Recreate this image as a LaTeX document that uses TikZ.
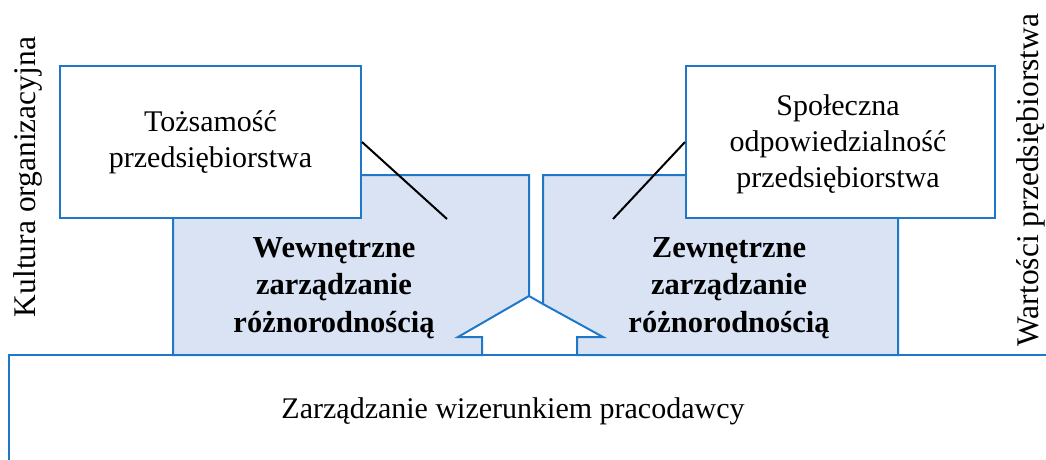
\documentclass[tikz,border=0pt]{standalone}
\usepackage{fontspec}
\setmainfont{Liberation Serif}
\definecolor{frameblue}{RGB}{31,119,200}
\definecolor{paleblue}{RGB}{218,227,243}
\begin{document}
\begin{tikzpicture}[x=1pt,y=-1pt,
  frame/.style={draw=frameblue, line width=2pt, line join=miter},
  panel/.style={frame, fill=paleblue},
  card/.style={frame, fill=white, inner sep=0pt},
  body/.style={font=\fontsize{30}{36}\selectfont, align=center, inner sep=0pt},
  heading/.style={font=\fontsize{30.5}{37.5}\selectfont\bfseries, align=center, inner sep=0pt},
  side/.style={font=\fontsize{31.5}{36}\selectfont, rotate=90, inner sep=0pt},
  link/.style={draw=black, line width=2pt}]
\useasboundingbox (0,0) rectangle (1046,459);

% wide base frame, open to the right and bottom
\draw[frame] (9,470) -- (9,355) -- (1060,355);

% two shaded panels with the up-pointing gap between them
\draw[panel] (173,175) -- (529,175) -- (529,296) -- (458,337) -- (482,337)
  -- (482,355) -- (173,355) -- cycle;
\draw[panel] (543,175) -- (898,175) -- (898,355) -- (577,355) -- (577,337)
  -- (603,337) -- (543,304) -- cycle;
\draw[frame] (529,296) -- (543,304);

% white cards on top of the panels
\node[card, body, minimum width=301pt, minimum height=152pt] (ident) at (210.5,142)
  {Tożsamość\\przedsiębiorstwa};
\node[card, minimum width=309pt, minimum height=152pt] (csr) at (840.5,142) {};
\node[body] (csrtext) at (838,144) {Społeczna\\odpowiedzialność\\przedsiębiorstwa};

% panel titles
\node[heading] (internal) at (334,288) {Wewnętrzne\\zarządzanie\\różnorodnością};
\node[heading] (external) at (729,288) {Zewnętrzne\\zarządzanie\\różnorodnością};

% base label
\node[body, anchor=base] (employer) at (513,418) {Zarządzanie wizerunkiem pracodawcy};

% vertical side labels
\node[side] (culture) at (28,177) {Kultura organizacyjna};
\node[side] (values) at (1031,180) {Wartości przedsiębiorstwa};

% pointer lines from the cards into the panels
\coordinate (internalTip) at (447,219);
\coordinate (externalTip) at (613,219);
\draw[link] (ident.east) -- (internalTip);
\draw[link] (csr.west) -- (externalTip);
\end{tikzpicture}
\end{document}
